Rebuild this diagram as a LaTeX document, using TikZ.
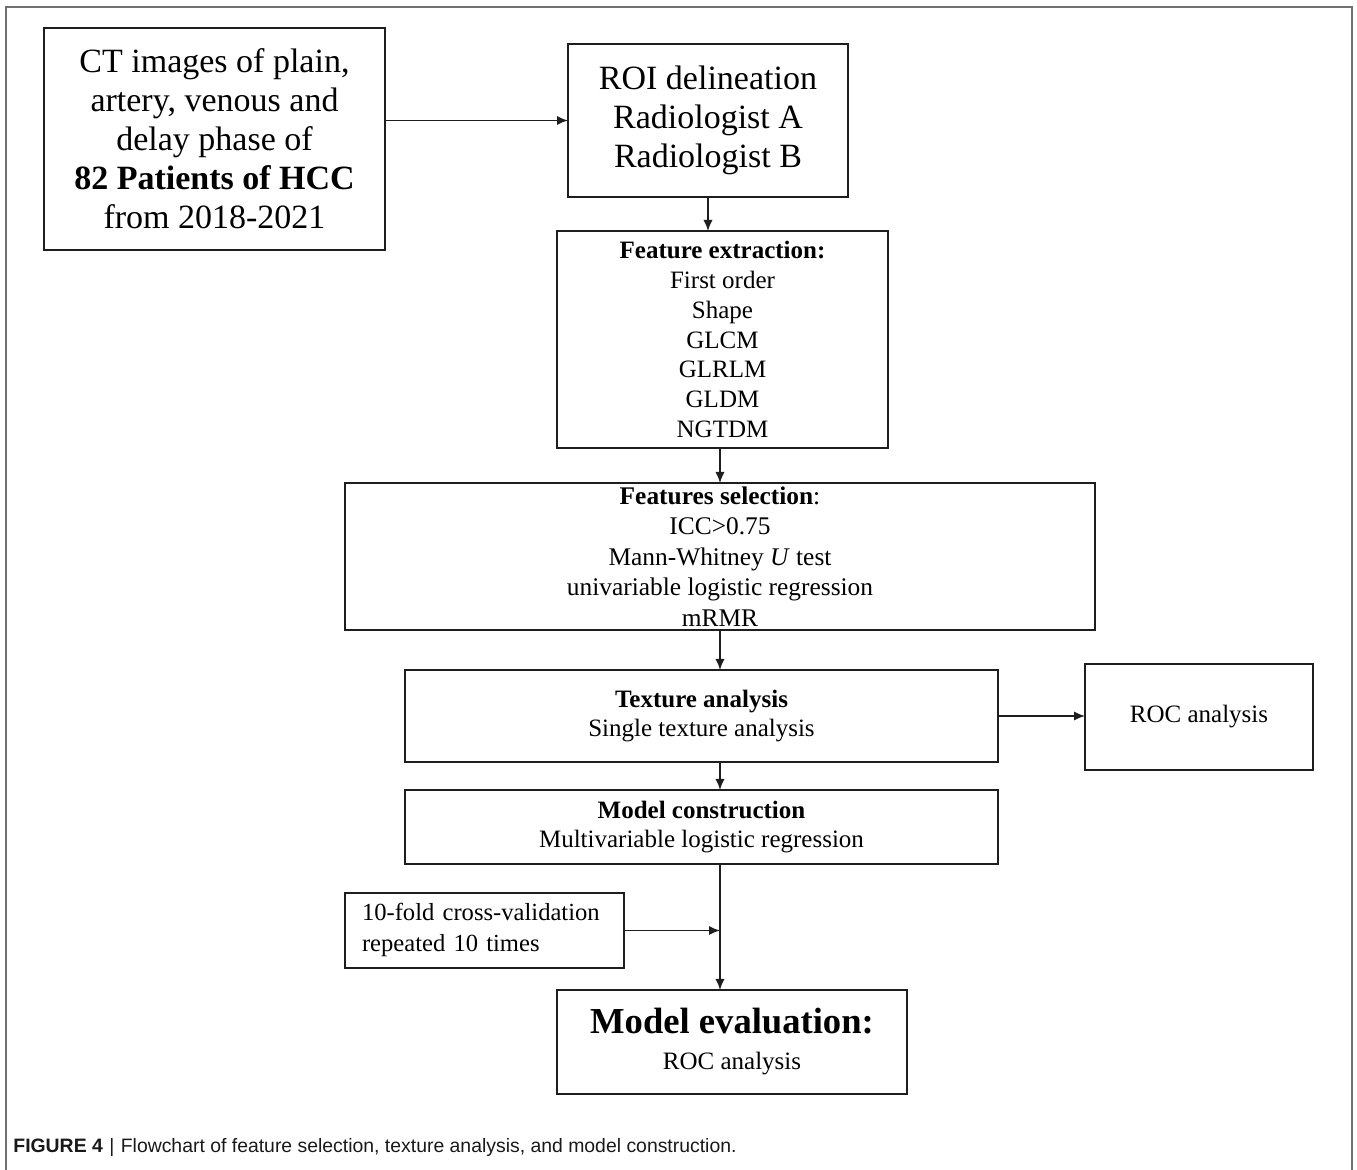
\documentclass[tikz,border=0pt]{standalone}
\usepackage{fontspec}
\setmainfont{Liberation Serif}
\newfontfamily\capfont{Liberation Sans}
\usetikzlibrary{arrows.meta}
\definecolor{linec}{HTML}{1E1E1E}
\definecolor{framec}{HTML}{707070}
\begin{document}
\begin{tikzpicture}[x=0.5pt,y=-0.5pt,
  box/.style={draw=linec,line width=0.9pt,inner sep=0pt,outer sep=0pt,align=center,text=black},
  arr/.style={draw=linec,line width=0.8pt,-{Latex[length=5.5pt,width=4.6pt]}},
  frame/.style={draw=framec,line width=1.3pt},
  big/.style={font=\fontsize{17}{19.5}\selectfont},
  mid/.style={font=\fontsize{12.5}{14.85}\selectfont}]
\useasboundingbox (0,0) rectangle (1357,1170);
\draw[frame] (6,1170) -- (6,7) -- (1352,7) -- (1352,1170);
\coordinate (spine) at (720,0);

\node[box,big,minimum width=170.5pt,minimum height=111pt] (ct) at (214.5,139)
  {CT images of plain,\\artery, venous and\\delay phase of\\\textbf{82 Patients of HCC}\\from 2018-2021};
\node[box,big,minimum width=140pt,minimum height=76.5pt] (roi) at (708,120.5)
  {ROI delineation\\Radiologist A\\Radiologist B\rule[-3pt]{0pt}{0pt}};
\node[box,mid,minimum width=165.5pt,minimum height=108.5pt] (fe) at (722.5,339.5)
  {\textbf{Feature extraction:}\\First order\\Shape\\GLCM\\GLRLM\\GLDM\\NGTDM};
\node[box,font=\fontsize{12.7}{15.25}\selectfont,minimum width=375pt,minimum height=73.5pt] (fs) at (720,556.5)
  {\textbf{Features selection}:\\ICC>0.75\\Mann-Whitney \textit{U} test\\univariable logistic regression\\mRMR};
\node[box,mid,minimum width=296.5pt,minimum height=46pt] (ta) at (701.5,716)
  {\textbf{Texture analysis}\\Single texture analysis};
\node[box,mid,minimum width=114pt,minimum height=53pt] (roc) at (1199,717)
  {ROC analysis};
\node[box,mid,minimum width=296.5pt,minimum height=37pt] (mc) at (701.5,827)
  {\textbf{Model construction}\\Multivariable logistic regression};
\node[box,font=\fontsize{12.3}{15.5}\selectfont,align=left,text width=122.5pt,inner xsep=8.5pt,minimum height=37.5pt] (cv) at (484.5,930.5)
  {10-fold cross-validation\\repeated 10 times\rule[-3pt]{0pt}{0pt}};
\node[box,font=\fontsize{12.5}{18}\selectfont,minimum width=175pt,minimum height=52pt] (me) at (732,1042)
  {{\fontsize{18.3}{20}\selectfont\bfseries Model evaluation:}\\ROC analysis};

\draw[arr] (ct.east |- roi.west) -- (roi.west);
\draw[arr] (roi.south) -- (roi.south |- fe.north);
\draw[arr] (fe.south -| spine) -- (fs.north -| spine);
\draw[arr] (fs.south -| spine) -- (ta.north -| spine);
\draw[arr] (ta.east) -- (ta.east -| roc.west);
\draw[arr] (ta.south -| spine) -- (mc.north -| spine);
\draw[arr] (mc.south -| spine) -- (me.north -| spine);
\draw[arr] (cv.east) -- (cv.east -| spine);

\node[anchor=west,inner sep=0pt,font=\capfont\fontsize{9.7}{11}\selectfont,text=black!90] (cap) at (13,1148)
  {\textbf{FIGURE 4}\,\,|\,\,Flowchart of feature selection, texture analysis, and model construction.};
\end{tikzpicture}
\end{document}
